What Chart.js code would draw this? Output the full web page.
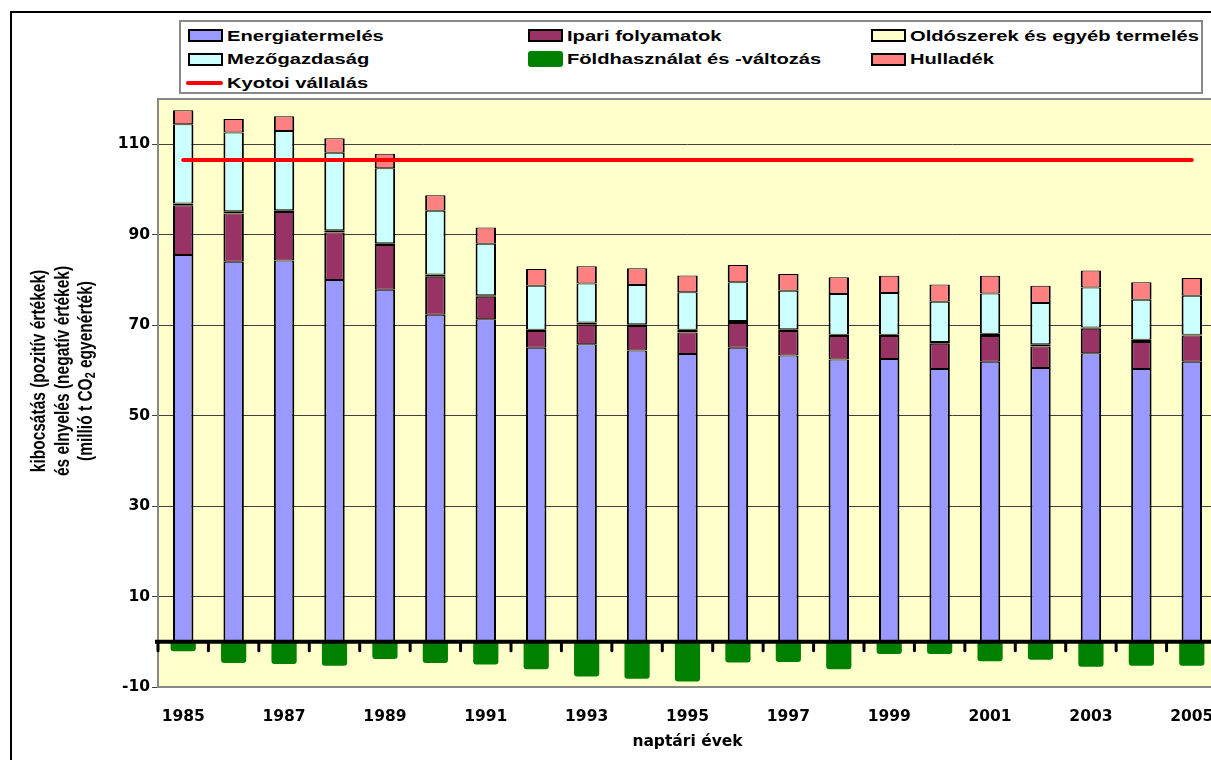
<!DOCTYPE html>
<html>
<head>
<meta charset="utf-8">
<script src="https://cdn.jsdelivr.net/npm/chart.js@4.4.1/dist/chart.umd.min.js"></script>
<style>
  html, body { margin: 0; padding: 0; background: #fff; overflow: hidden; width: 1211px; height: 760px; }
  #frame { position: absolute; left: 10px; top: 11px; width: 1400px; height: 900px;
           border-left: 2px solid #000; border-top: 2px solid #000; }
  #chart { position: absolute; left: 0; top: 0; }
  #legend {
    position: absolute; left: 179px; top: 20px; width: 1024px; height: 74px; box-sizing: border-box;
    border: 2px solid #888; background: #fff; padding: 2px 0 0 7px;
    display: grid; grid-template-columns: 340px 343px auto; grid-auto-rows: 23.5px;
    font: bold 15.5px 'Liberation Sans', Arial, sans-serif; color: #000;
  }
  #legend .item { display: flex; align-items: center; white-space: nowrap; }
  #legend .mk { display: inline-block; width: 35px; height: 13px; box-sizing: border-box; border: 2px solid #000; }
  #legend .mk.solid { height: 16px; border: none; border-radius: 3px; }
  #legend .mk.line { height: 4px; width: 37px; border: none; border-radius: 2px; margin-left: -2px; }
  #legend .tx { display: inline-block; margin-left: 4px; transform: scaleX(1.3); transform-origin: left center; }
  #ytitle {
    position: absolute; left: -88.5px; top: 344px; width: 300px; height: 54px;
    font: bold 15.5px 'Liberation Sans', Arial, sans-serif; line-height: 18px; text-align: center; color: #000;
    transform: rotate(-90deg) scaleY(1.3); transform-origin: center center; white-space: nowrap;
  }
  #ytitle sub { font-size: 70%; line-height: 0; vertical-align: -2px; }
</style>
</head>
<body>
<div id="frame"></div>
<canvas id="chart" width="1217" height="760"></canvas>
<div id="legend"></div>
<div id="ytitle">kibocsátás (pozitív értékek)<br>és elnyelés (negatív értékek)<br>(millió t CO<sub>2</sub> egyenérték)</div>
<script>
// years on the x axis
const years = [1985, 1986, 1987, 1988, 1989, 1990, 1991, 1992, 1993, 1994, 1995,
               1996, 1997, 1998, 1999, 2000, 2001, 2002, 2003, 2004, 2005];

// emissions by sector (million t CO2 eq.)
const energia   = [85.5, 84.0, 84.3, 80.0, 77.8, 72.3, 71.3, 65.0, 65.8, 64.4, 63.6,
                   65.0, 63.3, 62.4, 62.5, 60.3, 61.9, 60.5, 63.8, 60.3, 61.9];
const ipari     = [11.0, 10.7, 10.7, 10.5, 9.9, 8.4, 5.0, 3.7, 4.3, 5.4, 4.8,
                   5.5, 5.4, 5.2, 5.1, 5.6, 5.7, 4.8, 5.4, 6.0, 5.8];
const oldoszer  = [0.4, 0.5, 0.4, 0.5, 0.4, 0.5, 0.3, 0.3, 0.5, 0.4, 0.6,
                   0.4, 0.4, 0.3, 0.3, 0.4, 0.5, 0.5, 0.3, 0.5, 0.2];
const mezogazd  = [17.5, 17.4, 17.5, 17.1, 16.6, 14.1, 11.4, 9.7, 8.6, 8.7, 8.3,
                   8.6, 8.5, 9.0, 9.2, 8.9, 8.9, 9.1, 8.8, 8.8, 8.6];
const foldhaszn = [-2.1, -4.7, -4.9, -5.3, -3.8, -4.7, -5.0, -6.1, -7.7, -8.2, -8.8,
                   -4.6, -4.5, -6.1, -2.7, -2.7, -4.3, -4.0, -5.5, -5.3, -5.3];
const hulladek  = [3.1, 3.0, 3.3, 3.2, 3.2, 3.4, 3.6, 3.7, 3.8, 3.7, 3.7,
                   3.8, 3.7, 3.7, 3.8, 3.8, 3.9, 3.8, 3.8, 3.9, 3.9];
const kyoto     = [106.5, 106.5, 106.5, 106.5, 106.5, 106.5, 106.5, 106.5, 106.5, 106.5, 106.5,
                   106.5, 106.5, 106.5, 106.5, 106.5, 106.5, 106.5, 106.5, 106.5, 106.5];

const yTicks = [-10, 10, 30, 50, 70, 90, 110];

const tickFont = { family: "'DejaVu Sans', sans-serif", weight: 'bold', size: 15.5 };

function stackBar(label, data, color, edge) {
  return {
    label: label, data: data, backgroundColor: color, borderColor: '#000',
    borderWidth: { top: edge, bottom: edge, left: 2, right: 2 }, borderSkipped: false,
    barPercentage: 0.405, categoryPercentage: 1
  };
}

// yellow plot area with a grey frame
const plotFrame = {
  id: 'plotFrame',
  beforeDraw(chart) {
    const { ctx, chartArea: a } = chart;
    ctx.save();
    ctx.fillStyle = '#FFFFCC';
    ctx.fillRect(a.left, a.top, a.width, a.height);
    ctx.restore();
  },
  beforeDatasetsDraw(chart) {
    const { ctx, chartArea: a } = chart;
    ctx.save();
    ctx.strokeStyle = '#888';
    ctx.lineWidth = 2;
    ctx.strokeRect(a.left, a.top, a.width, a.height);
    ctx.restore();
  }
};

// thick category axis at zero with its small tick marks
const zeroAxis = {
  id: 'zeroAxis',
  afterDatasetsDraw(chart) {
    const { ctx, chartArea: a, scales: { x, y } } = chart;
    const y0 = y.getPixelForValue(0);
    const step = x.getPixelForValue(1) - x.getPixelForValue(0);
    ctx.save();
    ctx.strokeStyle = '#000';
    ctx.lineWidth = 3;
    ctx.lineCap = 'round';
    for (let i = 0; i <= years.length; i++) {
      const xb = x.getPixelForValue(0) - step / 2 + i * step;
      ctx.beginPath();
      ctx.moveTo(xb, y0);
      ctx.lineTo(xb, y0 + 9);
      ctx.stroke();
    }
    ctx.lineWidth = 4;
    ctx.lineCap = 'butt';
    ctx.beginPath();
    ctx.moveTo(a.left - 3, y0);
    ctx.lineTo(a.right, y0);
    ctx.stroke();
    ctx.restore();
  }
};

const chart = new Chart(document.getElementById('chart'), {
  type: 'bar',
  data: {
    labels: years,
    datasets: [
      stackBar('Energiatermelés', energia, '#9999FF', 1),
      stackBar('Ipari folyamatok', ipari, '#993366', 1),
      stackBar('Oldószerek és egyéb termelés', oldoszer, '#FFFFCC', 2),
      stackBar('Mezőgazdaság', mezogazd, '#CCFFFF', 1),
      {
        label: 'Földhasználat és -változás', data: foldhaszn,
        backgroundColor: '#008000', borderColor: '#008000', borderWidth: 0,
        borderRadius: 3, barPercentage: 0.5, categoryPercentage: 1
      },
      stackBar('Hulladék', hulladek, '#FF8080', 1),
      {
        type: 'line', label: 'Kyotoi vállalás', data: kyoto,
        borderColor: '#FF0000', backgroundColor: '#FF0000', borderWidth: 4,
        pointRadius: 0, fill: false, borderCapStyle: 'round', order: -1
      }
    ]
  },
  options: {
    responsive: false,
    animation: false,
    events: [],
    layout: { padding: { top: 99, left: 0, right: 0, bottom: 0 } },
    plugins: { legend: { display: false }, tooltip: { enabled: false } },
    scales: {
      x: {
        stacked: true,
        offset: true,
        // tick marks are not shown, their length only keeps the labels low
        grid: { display: false, drawTicks: true, tickLength: 19 },
        border: { display: false },
        ticks: {
          autoSkip: false, maxRotation: 0, minRotation: 0, padding: 2,
          color: '#000', font: tickFont,
          callback: (v, i) => (i % 2 === 0 ? String(years[i]) : '')
        },
        title: { display: true, text: 'naptári évek', color: '#000', font: tickFont, padding: { top: 0, bottom: 9 } },
        afterFit: s => { s.height = 73; }
      },
      y: {
        stacked: true,
        min: -10,
        max: 120,
        afterBuildTicks: s => { s.ticks = yTicks.map(v => ({ value: v })); },
        afterFit: s => { s.width = 158; },
        grid: { color: '#404040', lineWidth: 1, drawTicks: true, tickLength: 6, tickColor: '#404040' },
        border: { display: false },
        ticks: { color: '#000', font: tickFont, padding: 2 }
      }
    }
  },
  plugins: [plotFrame, zeroAxis]
});

// legend in three columns, built from the datasets
function buildLegend(ch) {
  const box = document.getElementById('legend');
  ch.data.datasets.forEach(ds => {
    const item = document.createElement('div');
    item.className = 'item';
    const mk = document.createElement('span');
    mk.className = 'mk';
    mk.style.background = ds.backgroundColor;
    if (ds.type === 'line') mk.classList.add('line');
    else if (ds.borderColor === ds.backgroundColor) mk.classList.add('solid');
    const tx = document.createElement('span');
    tx.className = 'tx';
    tx.textContent = ds.label;
    item.appendChild(mk);
    item.appendChild(tx);
    box.appendChild(item);
  });
}
buildLegend(chart);
</script>
</body>
</html>
